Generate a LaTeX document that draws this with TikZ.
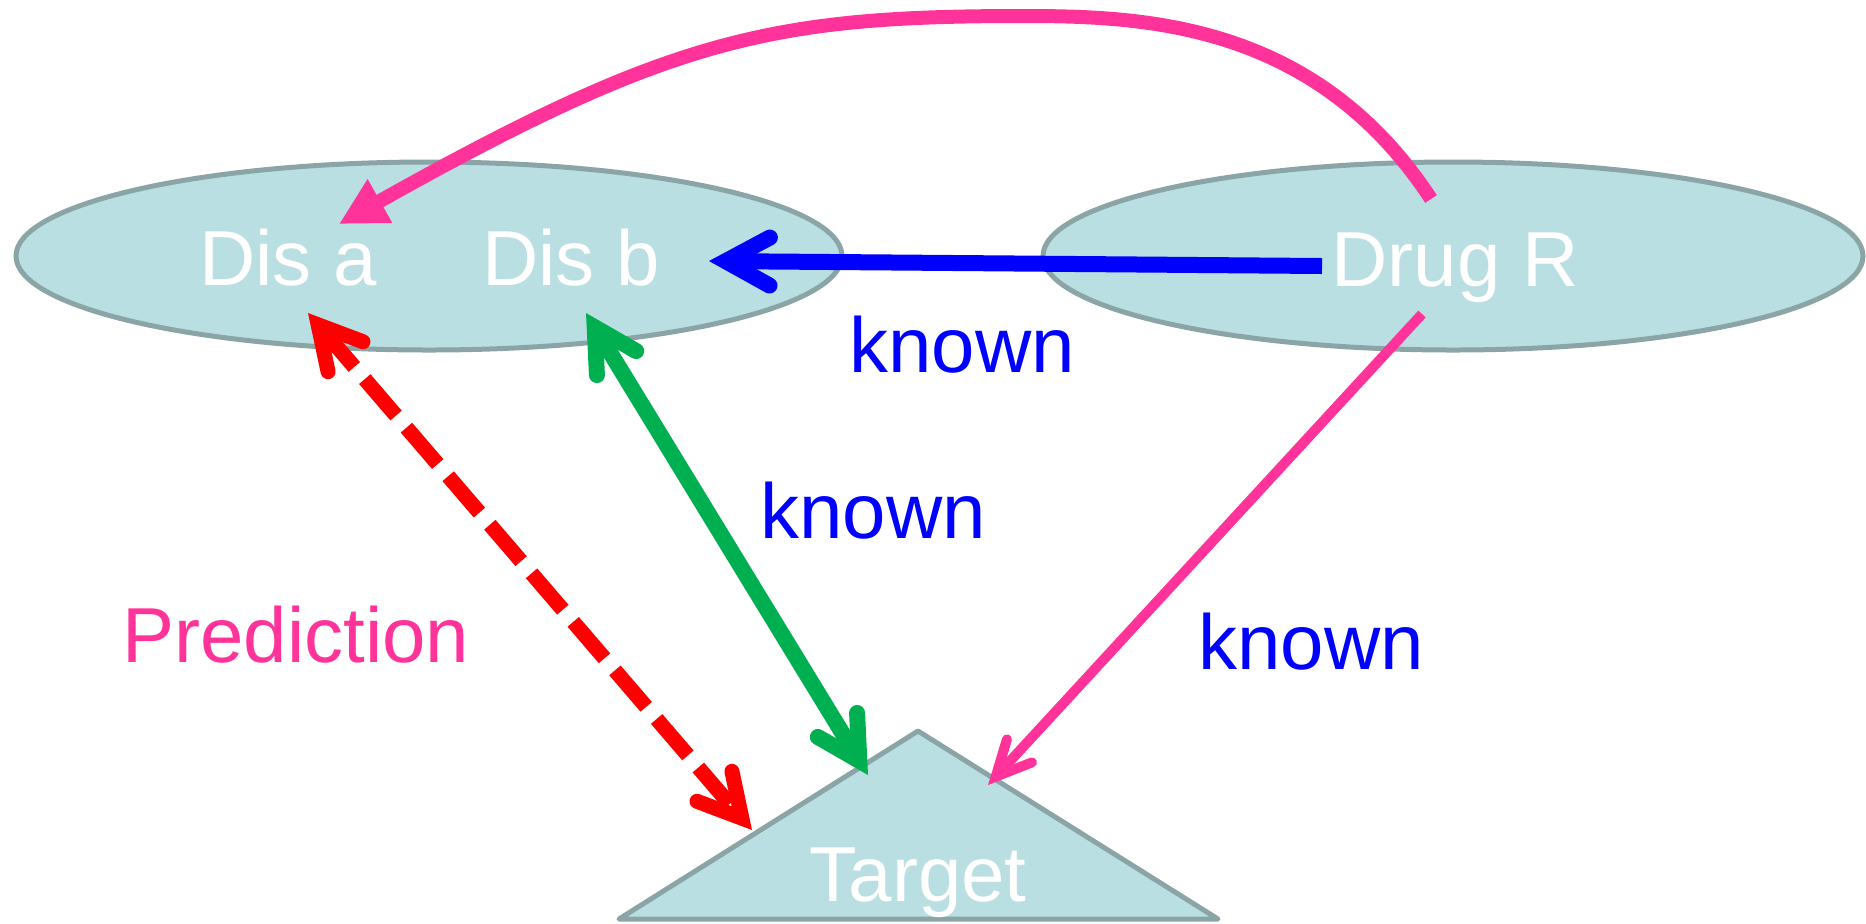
\documentclass[tikz,border=0pt]{standalone}
\usepackage{fontspec}
\setmainfont{Liberation Sans}
\usetikzlibrary{arrows.meta,shapes.geometric}
\definecolor{shapefill}{HTML}{BADFE2}
\definecolor{shapeline}{HTML}{8BA5A7}
\definecolor{pinkc}{HTML}{FF3399}
\definecolor{bluec}{HTML}{0000FF}
\definecolor{greenc}{HTML}{00B050}
\definecolor{redc}{HTML}{FF0000}
\begin{document}
\begin{tikzpicture}[x=0.5pt,y=-0.5pt,
  blob/.style={ellipse, draw=shapeline, fill=shapefill, line width=2.5pt, inner sep=0pt, minimum height=94pt},
  bigfont/.style={font=\fontsize{39pt}{46pt}\selectfont, inner sep=0pt, anchor=base},
  intext/.style={bigfont, text=white},
  knownlbl/.style={bigfont, text=bluec},
  predlbl/.style={bigfont, text=pinkc},
  bluearrow/.style={draw=bluec, line width=8pt, -{Straight Barb[length=22pt, width=24pt, line cap=round, line join=miter]}},
  greenarrow/.style={draw=greenc, line width=8pt, {Straight Barb[length=21pt, width=23pt, line cap=round, line join=miter]}-{Straight Barb[length=21pt, width=23pt, line cap=round, line join=miter]}},
  redarrow/.style={draw=redc, line width=7.5pt, dash pattern=on 24pt off 8pt, {Straight Barb[length=21pt, width=23pt, line cap=round, line join=miter]}-{Straight Barb[length=21pt, width=23pt, line cap=round, line join=miter]}},
  pinkarrow/.style={draw=pinkc, line width=5pt, -{Straight Barb[length=17.5pt, width=17pt, line cap=round, line join=miter]}},
  pinkcurve/.style={draw=pinkc, line width=7pt, -{Triangle[length=23.5pt, width=23.5pt]}}
]
\useasboundingbox (0,0) rectangle (1866,923);
% shapes
\node[blob, minimum width=413pt] (leftblob) at (429,256) {};
\node[blob, minimum width=410pt] (rightblob) at (1453,256) {};
\draw[fill=shapefill, draw=shapeline, line width=2.5pt, line join=round] (619,919) -- (918,731) -- (1218,919) -- cycle;
% texts
\node[intext] (disa) at (288,285) {Dis a};
\node[intext] (disb) at (571,285) {Dis b};
\node[intext] (drug) at (1455,286) {Drug R};
\node[intext] (target) at (918,901) {Target};
\node[predlbl] (pred) at (296,662) {Prediction};
\node[knownlbl] (known1) at (962,372) {known};
\node[knownlbl] (known2) at (873,538) {known};
\node[knownlbl] (known3) at (1311,669) {known};
% connector ends
\coordinate (drugW) at (1322,266);
\coordinate (disbE) at (709,261);
\coordinate (drugS) at (1422,314);
\coordinate (targetR) at (988,785);
\coordinate (drugN) at (1431,199);
\coordinate (disaN) at (339,224);
\coordinate (disaS) at (308,313);
\coordinate (targetL) at (752,830);
\coordinate (disbS) at (586,313);
\coordinate (targetM) at (868,775);
% connectors
\draw[bluearrow] (drugW) -- (disbE);
\draw[pinkarrow] (drugS) -- (targetR);
\draw[greenarrow] (disbS) -- (targetM);
\draw[redarrow] (disaS) -- (targetL);
\draw[pinkcurve] (drugN) .. controls (1315,22) and (1143,16) .. (1023,16)
  .. controls (772,16) and (670,38) .. (disaN);
\end{tikzpicture}
\end{document}
